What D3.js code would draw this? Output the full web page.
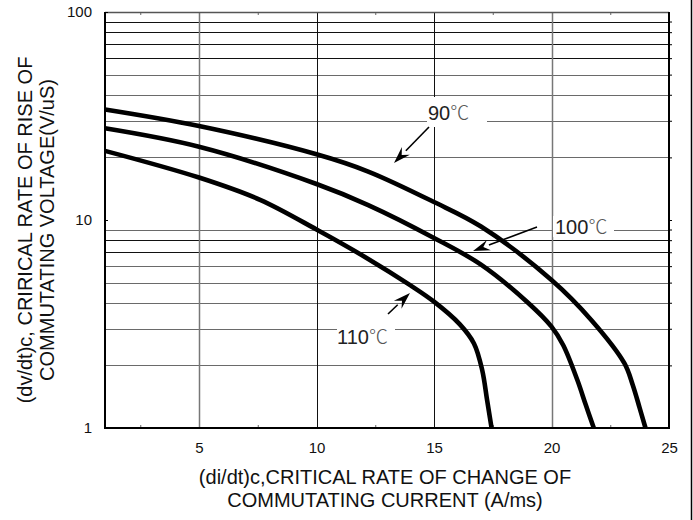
<!DOCTYPE html>
<html><head><meta charset="utf-8">
<script src="https://cdn.jsdelivr.net/npm/d3@7"></script>
<style>body{margin:0;background:#fff}svg{display:block}text{font-family:"Liberation Sans",Arial,sans-serif}</style>
</head><body>
<svg id="c" width="693" height="520"></svg>
<script>
// ---- data ----
const xTicks = [5, 10, 15, 20, 25];
const xMinorTicks = [2.5, 7.5, 12.5, 17.5, 22.5];
const yTicks = [1, 10, 100];
const yGrid = [2, 3, 4, 5, 6, 7, 8, 9, 20, 30, 40, 50, 60, 70, 80, 90];
const xGrid = [5, 10, 15, 20];
const series90 = [[1,34],[5,28.3],[10,20.7],[12.2,17.1],[15,12.2],[17,9.3],[20,5.15],[21.7,3.3],[23.1,2.05],[23.45,1.62],[23.75,1.25],[24,1.0]];
const series100 = [[1,27.6],[5,22.5],[10,14.9],[12.2,11.8],[15,8.2],[17,6.1],[19,4.0],[20,3.07],[20.5,2.5],[21.1,1.7],[21.45,1.3],[21.8,1.0]];
const series110 = [[1,21.5],[5,16],[7.6,12.5],[10,9],[12.2,6.5],[14,4.85],[15,4.05],[16.1,3.15],[16.7,2.55],[17.05,1.9],[17.26,1.36],[17.45,1.0]];
const labelNums = ["90", "100", "110"];
const unit = "\u2103";
const xTitle = ["(di/dt)c,CRITICAL RATE OF CHANGE OF", "COMMUTATING CURRENT (A/ms)"];
const yTitle = ["(dv/dt)c, CRIRICAL RATE OF RISE OF", "COMMUTATING VOLTAGE(V/uS)"];

// ---- layout ----
const L = 105, R = 669, T = 12, B = 428;
const svg = d3.select("#c");
const x = d3.scaleLinear().domain([1, 25]).range([L, R]);
const y = d3.scaleLog().domain([1, 100]).range([B, T]);

// page frame (right edge line)
svg.append("line").attr("x1", 691.5).attr("x2", 691.5).attr("y1", 0).attr("y2", 520)
  .attr("stroke", "#000").attr("stroke-width", 1.5);

// gridlines
const darkY = new Set([60, 70, 80, 90, 7, 8]);
svg.append("g").selectAll("line").data(yGrid).join("line")
  .attr("x1", L).attr("x2", R)
  .attr("y1", d => Math.round(y(d)) + 0.5).attr("y2", d => Math.round(y(d)) + 0.5)
  .attr("stroke", d => darkY.has(d) ? "#111" : "#6a6a6a").attr("stroke-width", 1);
const darkX = new Set([10, 15]);
svg.append("g").selectAll("line").data(xGrid).join("line")
  .attr("y1", T).attr("y2", B)
  .attr("x1", d => Math.round(x(d)) + 0.5).attr("x2", d => Math.round(x(d)) + 0.5)
  .attr("stroke", d => darkX.has(d) ? "#111" : "#777").attr("stroke-width", d => darkX.has(d) ? 1 : 1.5);

// minor ticks top & bottom
const minorB = d3.axisBottom(x).tickValues(xMinorTicks).tickSize(-3).tickFormat("");
svg.append("g").attr("transform", `translate(0,${B})`).call(minorB)
  .call(g => g.select(".domain").remove()).selectAll("line").attr("stroke", "#666");
const minorT = d3.axisTop(x).tickValues(xMinorTicks).tickSize(-3).tickFormat("");
svg.append("g").attr("transform", `translate(0,${T})`).call(minorT)
  .call(g => g.select(".domain").remove()).selectAll("line").attr("stroke", "#666");

// right small ticks
const rightAx = d3.axisRight(y).tickValues(yGrid.concat([10])).tickSize(3).tickFormat("");
svg.append("g").attr("transform", `translate(${R},0)`).call(rightAx)
  .call(g => g.select(".domain").remove()).selectAll("line").attr("stroke", "#000");

// plot frame
svg.append("line").attr("x1", L).attr("x2", R).attr("y1", T + 0.5).attr("y2", T + 0.5).attr("stroke", "#555").attr("stroke-width", 1.5);
svg.append("line").attr("x1", L).attr("x2", R + 1).attr("y1", B).attr("y2", B).attr("stroke", "#000").attr("stroke-width", 2);
svg.append("line").attr("x1", L).attr("x2", L).attr("y1", T).attr("y2", B + 1).attr("stroke", "#000").attr("stroke-width", 2);
svg.append("line").attr("x1", R).attr("x2", R).attr("y1", T).attr("y2", B + 1).attr("stroke", "#000").attr("stroke-width", 2);

// axes labels
const xAx = d3.axisBottom(x).tickValues(xTicks).tickSize(0).tickPadding(14).tickFormat(d3.format("d"));
svg.append("g").attr("transform", `translate(0,${B})`).call(xAx)
  .call(g => g.select(".domain").remove())
  .selectAll("text").attr("font-size", 15).attr("fill", "#111")
  .attr("font-family", '"Liberation Sans",Arial,sans-serif');
const yAx = d3.axisLeft(y).tickValues(yTicks).tickSize(-3).tickPadding(13).tickFormat(d3.format("d"));
svg.append("g").attr("transform", `translate(${L},0)`).call(yAx)
  .call(g => g.select(".domain").remove())
  .call(g => g.selectAll("line").attr("stroke", "#000"))
  .selectAll("text").attr("font-size", 15).attr("fill", "#111")
  .attr("font-family", '"Liberation Sans",Arial,sans-serif');

// curves
const line = d3.line().x(d => x(d[0])).y(d => y(d[1])).curve(d3.curveCatmullRom.alpha(0.5));
[series90, series100, series110].forEach(s => {
  svg.append("path").attr("d", line(s)).attr("fill", "none")
    .attr("stroke", "#000").attr("stroke-width", 4.6).attr("stroke-linejoin", "round");
});

// annotations: label boxes, text, arrows
function arrow(x1, y1, x2, y2) {
  const ang = Math.atan2(y2 - y1, x2 - x1);
  const hl = 17, hw = 5.5;
  const bx = x2 - hl * Math.cos(ang), by = y2 - hl * Math.sin(ang);
  svg.append("line").attr("x1", x1).attr("y1", y1).attr("x2", bx).attr("y2", by)
    .attr("stroke", "#000").attr("stroke-width", 1.6);
  const px = -Math.sin(ang) * hw, py = Math.cos(ang) * hw;
  svg.append("path").attr("d", `M${x2},${y2}L${bx + px},${by + py}L${bx + 0.35*hl*Math.cos(ang)},${by + 0.35*hl*Math.sin(ang)}L${bx - px},${by - py}Z`)
    .attr("fill", "#000");
}
const ann = [
  {box: [427, 97, 60, 30], tx: 428, ty: 120, a: [429, 127, 394, 163]},
  {box: [553, 216, 61, 21], tx: 555, ty: 234, a: [537, 227, 473, 251]},
  {box: [337, 319, 58, 22], tx: 337, ty: 344, a: [388, 314, 410, 293]}
];
ann.forEach((a, i) => {
  svg.append("rect").attr("x", a.box[0]).attr("y", a.box[1]).attr("width", a.box[2]).attr("height", a.box[3]).attr("fill", "#fff");
  const t = svg.append("text").attr("x", a.tx).attr("y", a.ty).attr("font-size", 20).attr("fill", "#222");
  t.append("tspan").text(labelNums[i]);
  t.append("tspan").attr("font-family", '"Noto Sans CJK SC","Noto Sans CJK JP",sans-serif')
    .attr("font-weight", 300).attr("fill", "#555").attr("font-size", 19).text(unit);
  arrow(a.a[0], a.a[1], a.a[2], a.a[3]);
});

// axis titles
const xt = svg.append("text").attr("text-anchor", "middle").attr("font-size", 20).attr("fill", "#111");
xTitle.forEach((s, i) => xt.append("tspan").attr("x", 385).attr("y", 484 + i * 23).text(s));
const yt = svg.append("text").attr("text-anchor", "middle").attr("font-size", 20).attr("fill", "#111")
  .attr("transform", "translate(0,230) rotate(-90)");
yTitle.forEach((s, i) => yt.append("tspan").attr("x", 0).attr("y", 32 + i * 22).text(s));
</script>
</body></html>
